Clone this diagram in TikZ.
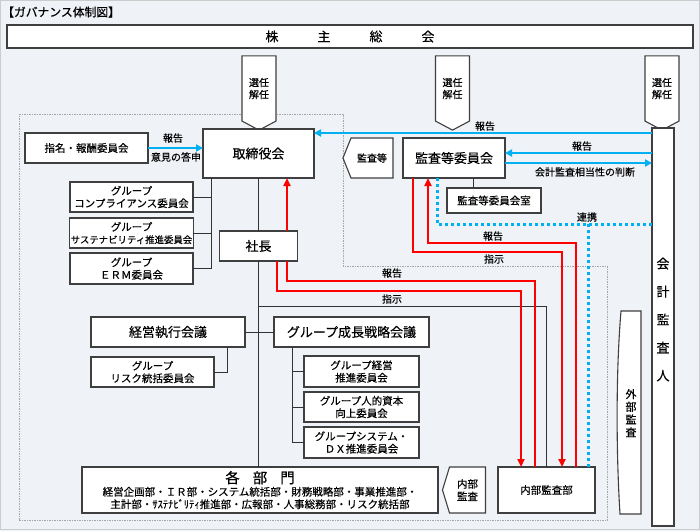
\documentclass[tikz,border=0pt]{standalone}
\usepackage{fontspec}
\setmainfont{Noto Sans CJK JP}[FakeBold=0.35]
\usetikzlibrary{positioning,arrows.meta,shapes.symbols}

\definecolor{skyblue}{HTML}{00B0F0}
\definecolor{bgcol}{HTML}{EFF2F6}
\definecolor{edgegray}{HTML}{3F3F3F}

\tikzset{
	orgbox/.style={draw=edgegray,fill=white,line width=1.1pt,inner sep=1pt,outer sep=0pt,align=center,font=\fontsize{10.5}{12.5}\selectfont},
	bigbox/.style={orgbox,font=\fontsize{13}{15}\selectfont},
	selbox/.style={orgbox,signal,signal to=south,signal pointer angle=124,minimum width=34pt,minimum height=71pt,font=\fontsize{10}{12}\selectfont},
	sidebox/.style={orgbox,signal,signal to=west,font=\fontsize{10.5}{12.5}\selectfont},
	lbl/.style={inner sep=0pt,font=\fontsize{10}{12}\selectfont},
	tree/.style={draw=black!80,line width=0.9pt},
	blueflow/.style={draw=skyblue,line width=2.2pt,-{Triangle[length=7pt,width=7pt]}},
	redflow/.style={draw=red,line width=2pt},
	redarrow/.style={redflow,-{Triangle[length=8pt,width=7pt]}},
	linkline/.style={draw=skyblue,line width=3pt,dash pattern=on 3pt off 3pt},
	frameline/.style={draw=gray!70,line width=0.8pt,dash pattern=on 1.5pt off 1pt}
}

\begin{document}
\begin{tikzpicture}[x=1pt,y=-1pt]
	\useasboundingbox (0,0) rectangle (700,531);
	\fill [bgcol] (0,0) rectangle (700,531);
	\draw [gray!40] (0.5,0.5) rectangle (699.5,529.5);
	\node [lbl,font=\fontsize{11.8}{14}\selectfont,anchor=west] at (2,12) (title) {【ガバナンス体制図】};

	\draw [frameline] (19,114) -- (343,114) -- (343,266) -- (607,266) -- (607,520) -- (19,520) -- cycle;

	\node [bigbox,minimum width=686pt,minimum height=23pt] at (350,36.5) (holders) {株\hspace{39pt}主\hspace{39pt}総\hspace{39pt}会};
	\node [selbox] at (259,88.5) (elect1) {選任\\解任};
	\node [selbox] at (452.5,88.5) (elect2) {選任\\解任};
	\node [selbox] at (662,88.5) (elect3) {選任\\解任};

	\node [orgbox,minimum width=123pt,minimum height=30pt] at (86.5,148) (nomination) {指名・報酬委員会};
	\node [bigbox,minimum width=111pt,minimum height=49pt] at (258.5,153.5) (board) {取締役会};
	\node [sidebox,signal pointer angle=136,minimum width=50pt,minimum height=40pt,font=\fontsize{10}{12}\selectfont] at (372,158) (auditmark) {監査等};
	\node [bigbox,minimum width=102pt,minimum height=40pt] at (454,158) (auditcom) {監査等委員会};
	\node [orgbox,minimum width=94pt,minimum height=25pt] at (494,200.5) (room) {監査等委員会室};
	\node [orgbox,minimum width=22pt,minimum height=398pt] at (663,327) (auditor) {};
	\node [lbl,font=\fontsize{13}{28}\selectfont,align=center] at (663,319.5) (auditorname) {会\\計\\監\\査\\人};

	\node [orgbox,minimum width=123pt,minimum height=30pt] at (131.5,197) (compliance) {グループ\\コンプライアンス委員会};
	\node [orgbox,minimum width=123pt,minimum height=30pt,below=6pt of compliance] (sustain) {グループ\\{\fontsize{9.4}{12.5}\selectfont サステナビリティ推進委員会}};
	\node [orgbox,minimum width=123pt,minimum height=31pt,below=5pt of sustain] (erm) {グループ\\ＥＲＭ委員会};
	\node [bigbox,minimum width=78pt,minimum height=30pt] at (258.5,246) (president) {社長};

	\node [bigbox,minimum width=154pt,minimum height=30pt] at (168,332) (exec) {経営執行会議};
	\node [bigbox,minimum width=155pt,minimum height=30pt] at (351.5,332) (growth) {グループ成長戦略会議};
	\node [orgbox,minimum width=123pt,minimum height=30pt] at (152.5,372) (risk) {グループ\\リスク統括委員会};
	\node [orgbox,minimum width=115pt,minimum height=31pt] at (361.5,371.5) (sub1) {グループ経営\\推進委員会};
	\node [orgbox,minimum width=115pt,minimum height=30pt,below=5pt of sub1] (sub2) {グループ人的資本\\向上委員会};
	\node [orgbox,minimum width=115pt,minimum height=31pt,below=5pt of sub2] (sub3) {グループシステム・\\ＤＸ推進委員会};

	\node [orgbox,minimum width=356pt,minimum height=46pt] at (260,490) (depts) {{\fontsize{14.5}{15}\selectfont 各\hspace{13pt}部\hspace{13pt}門}\\経営企画部・ＩＲ部・システム統括部・財務戦略部・事業推進部・\\主計部・ｻｽﾃﾅﾋﾞﾘﾃｨ推進部・広報部・人事総務部・リスク統括部};
	\node [sidebox,signal pointer angle=146,minimum width=43pt,minimum height=46pt] at (467.5,490) (inmark) {内部\\監査};
	\node [orgbox,minimum width=97pt,minimum height=46pt] at (546.5,490) (auditdept) {内部監査部};

	\draw [draw=edgegray,fill=white,line width=1.1pt] (621,311) -- (641,311) -- (641,514) -- (620,514) .. controls (616,450) and (616,370) .. (621,311) -- cycle;
	\node [lbl,font=\fontsize{11}{12.7}\selectfont,align=center] at (631,413) (extaudit) {外\\部\\監\\査};

	\draw [tree] (board) -- (president);
	\draw [tree] (president.south) -- (president.south |- depts.north);
	\draw [tree] (president.south |- 0,306) -| (auditdept.north);
	\draw [tree] (board.south -| 211,0) |- (erm);
	\draw [tree] (compliance.east) -- ++(18,0);
	\draw [tree] (sustain.east) -- ++(18,0);
	\draw [tree] (exec) -- (growth);
	\draw [tree] (exec.south -| 227,0) |- (risk);
	\draw [tree] (growth.south -| 292,0) |- (sub3);
	\draw [tree] (sub1.west) -- ++(-12,0);
	\draw [tree] (sub2.west) -- ++(-12,0);
	\draw [tree] (auditcom.south -| 473,0) -- (room.north -| 473,0);

	\draw [blueflow] (nomination) -- (board.west |- nomination);
	\node [lbl] at (173,138) (rep1) {報告};
	\node [lbl] at (176,157) (answer) {意見の答申};
	\draw [blueflow] (auditor.west |- 0,133) -- (board.east |- 0,133);
	\node [lbl] at (485,126) (rep2) {報告};
	\draw [blueflow] (auditor.west |- 0,153) -- (auditcom.east |- 0,153);
	\node [lbl] at (582,146) (rep3) {報告};
	\draw [blueflow] (auditcom.east |- 0,163) -- (auditor.west |- 0,163);
	\node [lbl] at (585,172) (judge) {会計監査相当性の判断};

	\coordinate (link) at (588,224);
	\draw [linkline] (auditcom.south -| 437,0) |- (auditor.west |- link);
	\draw [linkline] (link) -- (auditdept.north -| link);
	\node [lbl] at (587,217) (linklbl) {連携};

	\draw [redarrow] (auditcom.south -| 413,0) -- ++(0,74) -| (auditdept.north -| 562,0);
	\draw [redarrow] (auditdept.north -| 576,0) -- ++(0,-224) -| (auditcom.south -| 428,0);
	\node [lbl] at (493,236) (rep4) {報告};
	\node [lbl] at (494,259) (ord1) {指示};
	\draw [redarrow] (president.south -| 277,0) -- ++(0,30) -| (auditdept.north -| 521,0);
	\draw [redflow] (auditdept.north -| 535,0) -- ++(0,-186) -| (president.south -| 287,0);
	\draw [redarrow] (president.north -| 287,0) -- (board.south -| 287,0);
	\node [lbl] at (392,273) (rep5) {報告};
	\node [lbl] at (392,299) (ord2) {指示};
\end{tikzpicture}
\end{document}
